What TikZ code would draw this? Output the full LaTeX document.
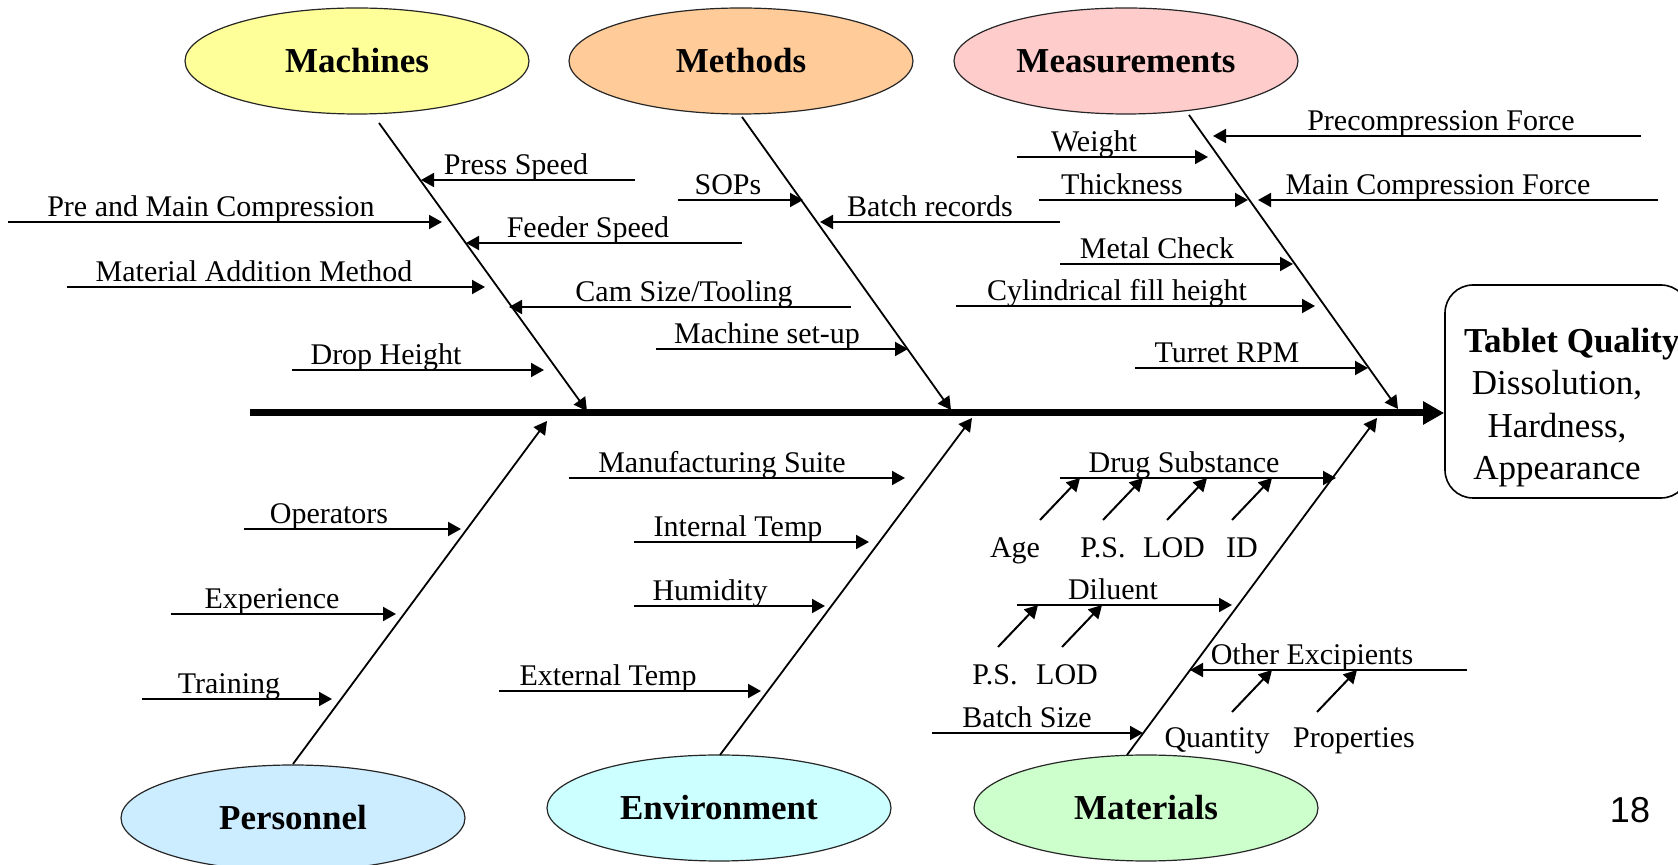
\documentclass[tikz,border=0pt]{standalone}
\usepackage{fontspec}
\setmainfont{Liberation Serif}
\newfontfamily\pagenofont{Liberation Sans}
\usetikzlibrary{arrows.meta,shapes.geometric}

\definecolor{machfill}{HTML}{FFFF99}
\definecolor{methfill}{HTML}{FFCC99}
\definecolor{measfill}{HTML}{FFCCCC}
\definecolor{persfill}{HTML}{CCECFF}
\definecolor{envfill}{HTML}{CCFFFF}
\definecolor{matfill}{HTML}{CCFFCC}

\tikzset{
  category/.style={ellipse, draw=black!85, line width=0.6pt, minimum width=172pt, minimum height=53pt,
    font=\bfseries\fontsize{17.5}{21}\selectfont},
  bone/.style={line width=0.9pt, -{Triangle[length=6.5pt,width=7pt]}},
  cause/.style={line width=1pt, -{Triangle[length=6.5pt,width=7pt]}},
  causetext/.style={anchor=base, inner sep=0pt, font=\fontsize{15}{18}\selectfont},
  spine/.style={line width=3.5pt, -{Triangle[length=10.5pt,width=11pt]}},
  effect/.style={draw, rounded corners=14pt, line width=0.8pt, minimum width=122pt, minimum height=106.5pt},
  effecttext/.style={align=center, inner sep=0pt, font=\fontsize{17.5}{21.3}\selectfont}
}

\begin{document}
\begin{tikzpicture}[x=0.5pt, y=-0.5pt]
  \useasboundingbox (0,0) rectangle (1678,865);
  % main categories
  \node[category, fill=machfill] (mach) at (357,61) {Machines};
  \node[category, fill=methfill] (meth) at (741,61) {Methods};
  \node[category, fill=measfill] (meas) at (1126,61) {Measurements};
  \node[category, fill=persfill] (pers) at (293,818) {Personnel};
  \node[category, fill=envfill] (env) at (719,808) {Environment};
  \node[category, fill=matfill] (mat) at (1146,808) {Materials};
  % effect
  \node[effect] (tq) at (1567,391.5) {};
  \node[effecttext] (tqtext) at (1557,407.5) {\makebox[93pt][l]{\bfseries Tablet Quality}\\Dissolution,\\Hardness,\\Appearance};
  % spine
  \coordinate (spineL) at (250,413);
  \draw[spine] (spineL) -- (spineL -| tq.west);
  % bones
  \foreach \name/\xs/\ys/\xe/\ye in {mach/379/123/587/411, meth/742/117/951/410, meas/1189/115/1398/409,
      pers/293/764/547/421, env/720/755/972/418, mat/1127/755/1377/418}
  {
    \coordinate (\name-s) at (\xs,\ys);
    \coordinate (\name-t) at (\xe,\ye);
    \draw[bone] (\name-s) -- (\name-t);
  }
  % causes
  \foreach \xa/\xb/\y/\tx/\txt [count=\i] in {
      635/421/180/516/Press Speed, 8/442/222/211/Pre and Main Compression,
      742/466/243/588/Feeder Speed, 67/485/287/254/Material Addition Method,
      851/509/307/684/{Cam Size/Tooling}, 292/544/370/386/Drop Height,
      678/803/200/728/SOPs, 1060/820/222/930/Batch records, 656/908/349/767/Machine set-up,
      1641/1213/136/1441/Precompression Force, 1017/1208/157/1094/Weight,
      1039/1248/200/1122/Thickness, 1658/1258/200/1438/Main Compression Force,
      1060/1293/264/1157/Metal Check, 956/1315/306/1117/Cylindrical fill height,
      1135/1368/368/1227/Turret RPM,
      244/461/529/329/Operators, 171/396/614/272/Experience, 142/332/699/229/Training,
      569/905/478/722/Manufacturing Suite, 634/869/542/738/Internal Temp,
      634/825/606/710/Humidity, 499/761/691/608/External Temp,
      1060/1336/478/1184/Drug Substance, 1017/1232/605/1113/Diluent,
      1467/1190/670/1312/Other Excipients, 932/1143/733/1027/Batch Size}
  {
    \coordinate (c\i-a) at (\xa,\y);
    \coordinate (c\i-b) at (\xb,\y);
    \draw[cause] (c\i-a) -- (c\i-b);
    \node[causetext] (c\i) at (\tx,\y-5.5) {\txt};
  }
  % sub-causes of materials
  \foreach \xs/\ys/\tx/\ty/\txt [count=\i] in {
      1040/520/1015/558/Age, 1103/520/1103/558/P.S., 1167/520/1174/558/LOD, 1232/520/1242/558/ID,
      998/647/995/685/P.S., 1062/647/1067/685/LOD,
      1232/712/1217/748/Quantity, 1317/712/1354/748/Properties}
  {
    \coordinate (s\i-a) at (\xs,\ys);
    \coordinate (s\i-b) at (\xs+40,\ys-42);
    \draw[cause] (s\i-a) -- (s\i-b);
    \node[causetext] (s\i) at (\tx,\ty) {\txt};
  }
  \node[font=\pagenofont\fontsize{18}{20}\selectfont] (pageno) at (1630,810) {18};
\end{tikzpicture}
\end{document}
